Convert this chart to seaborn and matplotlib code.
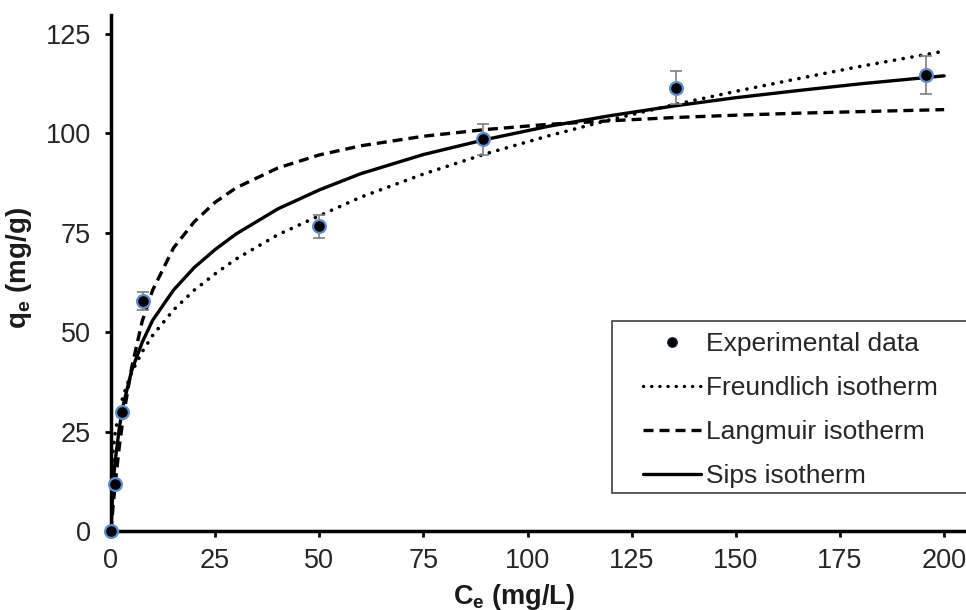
import matplotlib
matplotlib.use("Agg")
import matplotlib.pyplot as plt
from matplotlib.lines import Line2D
from matplotlib.patches import Rectangle
import seaborn as sns
import pandas as pd

# Experimental data
ce_exp = [0.0, 1.0, 2.6, 7.7, 50.0, 89.2, 135.6, 195.6]
qe_exp = [0.0, 11.8, 29.9, 57.8, 76.6, 98.5, 111.5, 114.7]
qe_err = [0.0, 0.0, 0.0, 2.3, 2.9, 3.8, 4.2, 4.7]

# Model curves
ce_fit = [0, 0.5, 1, 2, 3, 5, 7.5, 10, 15, 20, 25, 30, 40, 50, 60, 75, 90,
          105, 120, 135, 150, 165, 180, 200]
q_freundlich = [0, 20.1, 24.7, 30.4, 34.3, 40.0, 45.1, 49.2, 55.6, 60.6, 64.7,
                68.4, 74.5, 79.3, 84.0, 89.8, 94.9, 99.4, 103.5, 107.2, 110.6,
                113.8, 116.9, 120.7]
q_langmuir = [0, 6.2, 11.8, 21.3, 29.1, 41.3, 52.8, 60.6, 71.2, 77.8, 82.7,
              86.3, 91.3, 94.6, 96.9, 99.3, 101.0, 102.3, 103.2, 104.0, 104.6,
              105.1, 105.5, 106.0]
q_sips = [0, 12.0, 17.5, 26.0, 32.0, 40.5, 47.5, 53.0, 60.6, 66.3, 70.8, 74.7,
          81.0, 85.8, 89.9, 94.7, 98.5, 101.8, 104.5, 106.9, 109.0, 110.8,
          112.5, 114.5]

sns.set_theme(style="ticks")
plt.rcParams["font.family"] = ["Liberation Sans", "DejaVu Sans"]
plt.rcParams["mathtext.fontset"] = "custom"
plt.rcParams["mathtext.rm"] = "Liberation Sans"
plt.rcParams["mathtext.bf"] = "Liberation Sans:bold"

fig = plt.figure(figsize=(9.66, 6.10), dpi=100)
L, R, T, B = 111, 965, 15, 531
ax = fig.add_axes([L / 966, 1 - B / 610, (R - L) / 966, (B - T) / 610])

fit_df = pd.DataFrame({"Ce": ce_fit, "F": q_freundlich, "L": q_langmuir, "S": q_sips})
exp_df = pd.DataFrame({"Ce": ce_exp, "qe": qe_exp, "err": qe_err})

lw = 2.4
dot_ls = (0, (0.05, 2.4))
dash_ls = (0, (3.0, 1.8))
sns.lineplot(data=fit_df, x="Ce", y="F", ax=ax, color="black", lw=lw + 0.2,
             linestyle=dot_ls, dash_capstyle="round", zorder=3)
sns.lineplot(data=fit_df, x="Ce", y="L", ax=ax, color="black", lw=lw,
             linestyle=dash_ls, zorder=3)
sns.lineplot(data=fit_df, x="Ce", y="S", ax=ax, color="black", lw=lw,
             linestyle="-", zorder=3)

ax.errorbar(exp_df["Ce"], exp_df["qe"], yerr=exp_df["err"], fmt="none",
            ecolor="#7f7f7f", elinewidth=1.2, capsize=4.3, capthick=1.2, zorder=4)
sns.scatterplot(data=exp_df, x="Ce", y="qe", ax=ax, color="black", s=85,
                edgecolor="#5b8fd0", linewidth=1.6, zorder=5, clip_on=False)

ax.set_xlim(0, 205)
ax.set_ylim(0, 129.8)
ax.set_xticks([0, 25, 50, 75, 100, 125, 150, 175, 200])
ax.set_yticks([0, 25, 50, 75, 100, 125])

for s in ["top", "right"]:
    ax.spines[s].set_visible(False)
for s in ["left", "bottom"]:
    ax.spines[s].set_linewidth(2.5)
    ax.spines[s].set_color("black")
ax.tick_params(axis="both", direction="out", length=4.5, width=2.0,
               labelsize=19.5, colors="black")
ax.tick_params(axis="x", pad=8)
ax.tick_params(axis="y", pad=10)
for lab in ax.get_xticklabels() + ax.get_yticklabels():
    lab.set_color("#262626")

ax.set_xlabel(r"C$_\mathbf{e}$ (mg/L)", fontsize=19.5, fontweight="bold", color="#1a1a1a")
ax.set_ylabel(r"q$_\mathbf{e}$ (mg/g)", fontsize=20, fontweight="bold", color="#1a1a1a")
ax.xaxis.set_label_coords(0.472, -0.098)
ax.yaxis.set_label_coords(-0.090, 0.51)

# Legend frame (extends past the right edge as in the reference)
fig.patches.append(Rectangle((612 / 966, 1 - 493 / 610), (980 - 612) / 966,
                             (493 - 321) / 610, transform=fig.transFigure,
                             facecolor="white", edgecolor="#404040", lw=1.2,
                             zorder=10))

handles = [
    Line2D([], [], marker="o", color="black", linestyle="none", markersize=7,
           markeredgecolor="#1a2a4a", markeredgewidth=0.8),
    Line2D([], [], color="black", lw=lw, linestyle=dot_ls, dash_capstyle="round"),
    Line2D([], [], color="black", lw=lw, linestyle=dash_ls),
    Line2D([], [], color="black", lw=lw, linestyle="-"),
]
labels = ["Experimental data", "Freundlich isotherm", "Langmuir isotherm", "Sips isotherm"]
leg = fig.legend(handles, labels, loc="upper left",
                 bbox_to_anchor=(643 / 966, 1 - 332 / 610),
                 fontsize=19, frameon=False, handlelength=2.2, handletextpad=0.2,
                 borderpad=0, labelspacing=0.76, borderaxespad=0)
leg.set_zorder(11)

fig.savefig("out.png", dpi=100)
